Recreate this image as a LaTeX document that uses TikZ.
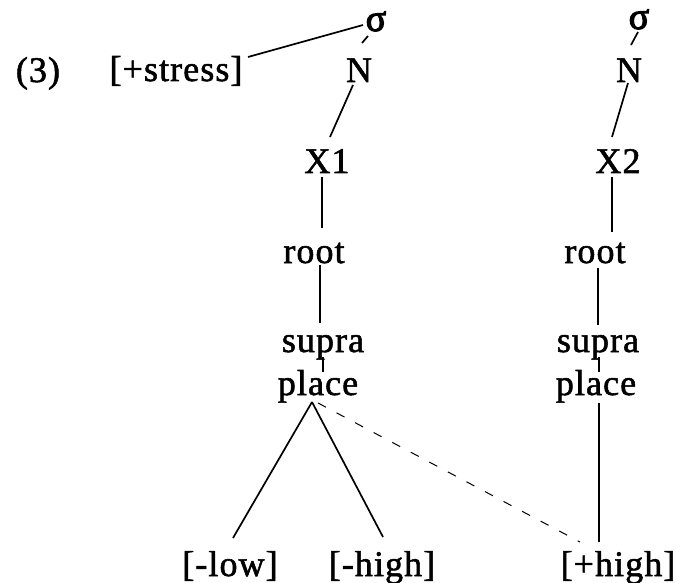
\documentclass[tikz,border=0pt]{standalone}
\usepackage{fontspec}
\setmainfont{Liberation Serif}
\newfontfamily\diagfont{Liberation Serif}[FakeBold=1.5,LetterSpace=3]
\newfontfamily\sigfont{Liberation Serif}[FakeBold=3]
\begin{document}
\begin{tikzpicture}[x=1bp,y=-1bp,
  lbl/.style={anchor=base,inner sep=0pt,font=\diagfont\fontsize{36bp}{40bp}\selectfont},
  sig/.style={anchor=base,inner sep=0pt,font=\sigfont\fontsize{38bp}{40bp}\selectfont},
  assoc/.style={line width=1.7bp},
  delink/.style={line width=1bp,dash pattern=on 9bp off 12bp}]
\useasboundingbox (0,0) rectangle (676,583);
\node[lbl] (three) at (38,82) {(3)};
\node[lbl] (stress) at (176,81) {[+stress]};
\node[sig] (s1) at (376,31) {σ};
\node[lbl] (N1) at (359,82) {N};
\node[sig] (s2) at (639,29) {σ};
\node[lbl] (N2) at (629,82) {N};
\node[lbl] (X1) at (327,173) {X1};
\node[lbl] (X2) at (618,173) {X2};
\node[lbl] (root1) at (314,263) {root};
\node[lbl] (root2) at (595,263) {root};
\node[lbl] (supra1) at (323,352) {supra};
\node[lbl] (place1) at (318,395) {place};
\node[lbl] (supra2) at (598,352) {supra};
\node[lbl] (place2) at (596,395) {place};
\node[lbl] (low) at (230,576) {[-low]};
\node[lbl] (mhigh) at (382,576) {[-high]};
\node[lbl] (phigh) at (618,576) {[+high]};
\draw[assoc] ([shift={(72,-24)}]stress.base) -- ([shift={(-13,-6)}]s1.base);
\draw[assoc] ([shift={(-8,5)}]s1.base) -- ([shift={(3,-39)}]N1.base);
\draw[assoc] ([shift={(-1,3)}]s2.base) -- ([shift={(2,-37)}]N2.base);
\draw[assoc] ([shift={(-6,3)}]N1.base) -- ([shift={(3,-36)}]X1.base);
\draw[assoc] ([shift={(-1,1)}]N2.base) -- ([shift={(-6,-36)}]X2.base);
\draw[assoc] ([shift={(-5,4)}]X1.base) -- ([shift={(8,-35)}]root1.base);
\draw[assoc] ([shift={(-6,4)}]X2.base) -- ([shift={(17,-31)}]root2.base);
\draw[assoc] ([shift={(6,2)}]root1.base) -- ([shift={(-3,-29)}]supra1.base);
\draw[assoc] ([shift={(3,5)}]root2.base) -- ([shift={(0,-27)}]supra2.base);
\draw[assoc] ([shift={(0,5)}]supra1.base) -- ([shift={(5,-23)}]place1.base);
\draw[assoc] ([shift={(1,5)}]supra2.base) -- ([shift={(3,-23)}]place2.base);
\draw[assoc] ([shift={(-6,7)}]place1.base) -- ([shift={(3,-38)}]low.base);
\draw[assoc] ([shift={(-6,7)}]place1.base) -- ([shift={(1,-39)}]mhigh.base);
\draw[delink] ([shift={(0,8)}]place1.base) -- ([shift={(-38,-34)}]phigh.base);
\draw[assoc] ([shift={(3,8)}]place2.base) -- ([shift={(-19,-34)}]phigh.base);
\end{tikzpicture}
\end{document}
